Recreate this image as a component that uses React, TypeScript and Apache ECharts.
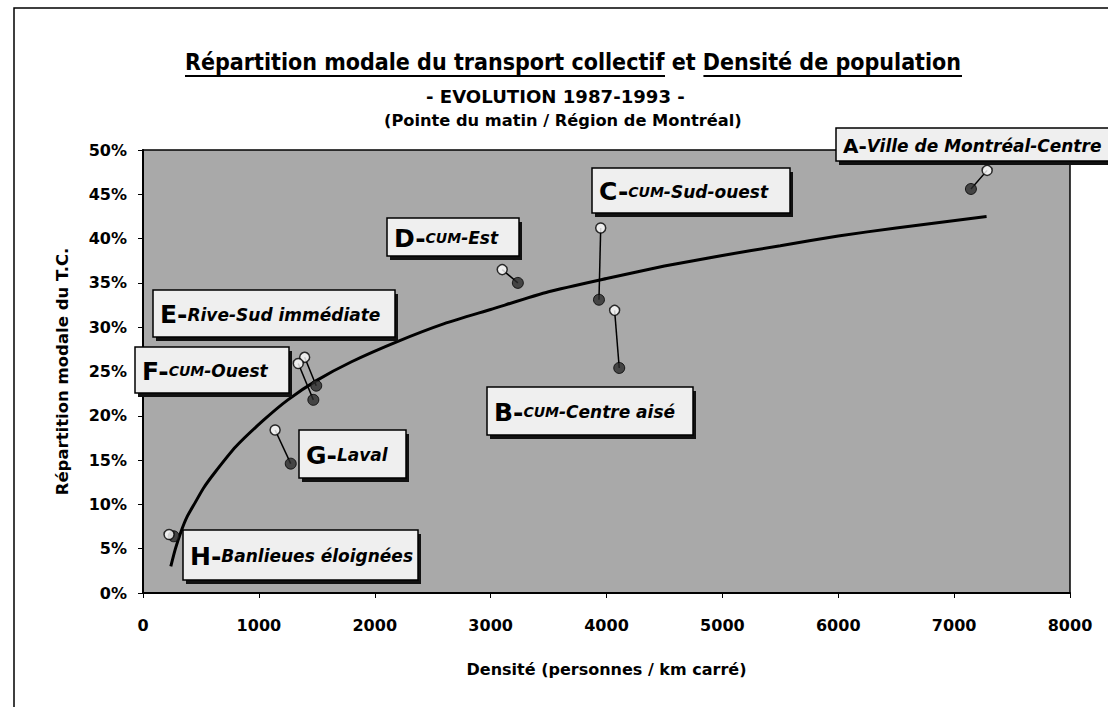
import React, { useEffect, useRef } from "react";
import * as echarts from "echarts";

// ---- Data ----
const regionLetters = ["A", "B", "C", "D", "E", "F", "G", "H"];
const regionNames = [
  "Ville de Montréal-Centre",
  "CUM-Centre aisé",
  "CUM-Sud-ouest",
  "CUM-Est",
  "Rive-Sud immédiate",
  "CUM-Ouest",
  "Laval",
  "Banlieues éloignées",
];
const density1987 = [7285, 4070, 3950, 3100, 1395, 1340, 1140, 225];
const share1987 = [47.7, 31.9, 41.2, 36.5, 26.6, 25.9, 18.4, 6.6];
const density1993 = [7145, 4110, 3935, 3235, 1495, 1470, 1275, 265];
const share1993 = [45.6, 25.4, 33.1, 35.0, 23.4, 21.8, 14.6, 6.4];
// trend curve
const trendDensity = [240, 280, 330, 380, 450, 520, 620, 800, 1040, 1250, 1500, 1800, 2200, 2600, 3000, 3500, 4000, 4500, 5000, 5500, 6000, 6500, 7280];
const trendShare = [3.0, 5.0, 7.0, 8.6, 10.2, 11.8, 13.6, 16.5, 19.5, 21.8, 24.0, 26.1, 28.4, 30.4, 32.0, 34.0, 35.5, 36.9, 38.1, 39.2, 40.3, 41.2, 42.5];

const titleMain = "Répartition modale du transport collectif";
const titleMid = " et ";
const titleEnd = "Densité de population";
const subtitle = "- EVOLUTION 1987-1993 -";
const subtitle2 = "(Pointe du matin / Région de Montréal)";
const xAxisName = "Densité (personnes / km carré)";
const yAxisName = "Répartition modale du T.C.";

// ---- Layout of the label boxes (pixels) ----
const labelLayout: Record<string, { x: number; y: number; w: number; h: number; big: number }> = {
  A: { x: 836, y: 128, w: 290, h: 33, big: 20 },
  B: { x: 487, y: 387, w: 206, h: 48, big: 25 },
  C: { x: 592, y: 168, w: 198, h: 45, big: 25 },
  D: { x: 387, y: 218, w: 132, h: 38, big: 25 },
  E: { x: 153, y: 290, w: 242, h: 47, big: 25 },
  F: { x: 135, y: 347, w: 154, h: 46, big: 25 },
  G: { x: 299, y: 430, w: 107, h: 48, big: 25 },
  H: { x: 183, y: 530, w: 235, h: 50, big: 25 },
};

const measureCtx = (() => {
  const c = document.createElement("canvas");
  return c.getContext("2d")!;
})();
function measure(text: string, font: string) {
  measureCtx.font = font;
  return measureCtx.measureText(text).width;
}

const TITLE_FAMILY = '"DejaVu Sans", sans-serif';

function fittedText(text: string, size: number, left: number, width: number, cy: number) {
  const font = `bold ${size}px ${TITLE_FAMILY}`;
  const w = measure(text, font);
  const s = width / w;
  return {
    type: "text",
    x: left,
    y: cy,
    scaleX: s,
    style: { text, font, fill: "#000", align: "left", verticalAlign: "middle" },
    z: 10,
  };
}

function buildGraphics() {
  const g: any[] = [];
  // outer frame
  g.push({
    type: "rect",
    shape: { x: 14, y: 8, width: 1200, height: 800 },
    style: { fill: "none", stroke: "#000", lineWidth: 1.5 },
    z: 1,
  });
  // Title with underlines
  const tFont = `bold 23px ${TITLE_FAMILY}`;
  const full = titleMain + titleMid + titleEnd;
  const fullW = measure(full, tFont);
  const tLeft = 185;
  const tWidth = 777;
  const s = tWidth / fullW;
  g.push({
    type: "text",
    x: tLeft,
    y: 62,
    scaleX: s,
    style: { text: full, font: tFont, fill: "#000", align: "left", verticalAlign: "middle" },
    z: 10,
  });
  const w1 = measure(titleMain, tFont) * s;
  const wMid = measure(titleMid, tFont) * s;
  const w3 = measure(titleEnd, tFont) * s;
  const uy = 76;
  g.push({ type: "line", shape: { x1: tLeft, y1: uy, x2: tLeft + w1, y2: uy }, style: { stroke: "#000", lineWidth: 2 }, z: 10 });
  g.push({
    type: "line",
    shape: { x1: tLeft + w1 + wMid, y1: uy, x2: tLeft + w1 + wMid + w3, y2: uy },
    style: { stroke: "#000", lineWidth: 2 },
    z: 10,
  });
  g.push(fittedText(subtitle, 18, 426, 259, 97));
  g.push(fittedText(subtitle2, 16, 384, 358, 121));

  // label boxes
  regionLetters.forEach((letter, i) => {
    const L = labelLayout[letter];
    const name = regionNames[i];
    const richName = name.startsWith("CUM") ? `{cum|CUM}{n|${name.slice(3)}}` : `{n|${name}}`;
    g.push({
      type: "group",
      x: L.x,
      y: L.y,
      z: 20,
      children: [
        { type: "rect", shape: { x: 3, y: 4, width: L.w, height: L.h }, style: { fill: "#111" }, z: 20 },
        {
          type: "rect",
          shape: { x: 0, y: 0, width: L.w, height: L.h },
          style: { fill: "#efefef", stroke: "#000", lineWidth: 1.5 },
          z: 21,
        },
        {
          type: "text",
          x: 7,
          y: L.h / 2 + 1,
          z: 22,
          style: {
            text: `{b|${letter}-}${richName}`,
            align: "left",
            verticalAlign: "middle",
            rich: {
              b: { font: `bold ${L.big}px "DejaVu Sans", sans-serif`, fill: "#000" },
              n: { font: `italic bold 17px "DejaVu Sans", sans-serif`, fill: "#000" },
              cum: { font: `italic bold 14px "DejaVu Sans", sans-serif`, fill: "#000" },
            },
          },
        },
      ],
    });
  });
  return g;
}

export default function App() {
  const ref = useRef<HTMLDivElement>(null);
  useEffect(() => {
    document.body.style.margin = "0";
    const chart = echarts.init(ref.current!, null, { renderer: "svg" });
    const pts87 = density1987.map((x, i) => [x, share1987[i]]);
    const pts93 = density1993.map((x, i) => [x, share1993[i]]);
    const trend = trendDensity.map((x, i) => [x, trendShare[i]]);
    const connectors = regionLetters.map((_, i) => ({ coords: [pts87[i], pts93[i]] }));
    const axisFont = { fontFamily: '"DejaVu Sans", sans-serif', fontWeight: "bold" as const, fontSize: 16, color: "#000" };

    chart.setOption({
      animation: false,
      backgroundColor: "#fff",
      grid: {
        left: 143,
        top: 150,
        right: 38,
        bottom: 114,
        show: true,
        backgroundColor: "#a9a9a9",
        borderColor: "#000",
        borderWidth: 1.5,
      },
      xAxis: {
        type: "value",
        min: 0,
        max: 8000,
        interval: 1000,
        name: xAxisName,
        nameLocation: "middle",
        nameGap: 68,
        nameTextStyle: { ...axisFont, fontSize: 16 },
        axisLine: { show: true, lineStyle: { color: "#000", width: 2 } },
        axisTick: { show: true, length: 5, lineStyle: { color: "#000", width: 1 } },
        axisLabel: { ...axisFont, margin: 24, formatter: (v: number) => String(v) },
        splitLine: { show: false },
      },
      yAxis: {
        type: "value",
        min: 0,
        max: 50,
        interval: 5,
        name: yAxisName,
        nameLocation: "middle",
        nameRotate: 90,
        nameGap: 72,
        nameTextStyle: { ...axisFont, fontSize: 16.5 },
        axisLine: { show: true, lineStyle: { color: "#000", width: 2 } },
        axisTick: { show: true, length: 5, lineStyle: { color: "#000", width: 1 } },
        axisLabel: { ...axisFont, margin: 16, formatter: "{value}%" },
        splitLine: { show: false },
      },
      series: [
        {
          type: "line",
          data: trend,
          smooth: 0.2,
          symbol: "none",
          lineStyle: { color: "#000", width: 3 },
          z: 2,
        },
        {
          type: "lines",
          coordinateSystem: "cartesian2d",
          data: connectors,
          lineStyle: { color: "#000", width: 1.5, opacity: 1 },
          z: 3,
        },
        {
          type: "scatter",
          name: "1993",
          data: pts93,
          symbol: "circle",
          symbolSize: 11,
          itemStyle: { color: "#2a2a2a", borderColor: "#000", borderWidth: 1 },
          z: 4,
        },
        {
          type: "scatter",
          name: "1987",
          data: pts87,
          symbol: "circle",
          symbolSize: 10,
          itemStyle: { color: "#fff", borderColor: "#000", borderWidth: 1.5 },
          z: 5,
        },
      ],
      graphic: buildGraphics(),
    });
    return () => chart.dispose();
  }, []);
  return <div ref={ref} style={{ width: 1108, height: 707 }} />;
}
